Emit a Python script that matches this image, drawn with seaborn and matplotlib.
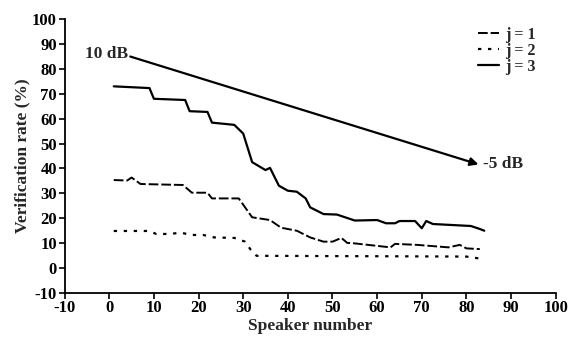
import pandas as pd
import seaborn as sns
import matplotlib
matplotlib.use('Agg')
import matplotlib.pyplot as plt

# Breakpoints (speaker number, verification rate %)
j1_x = [1, 4, 5, 7, 16.5, 18.5, 22, 23, 29, 32, 36, 38.5, 42, 45, 48, 50, 52, 53.3, 55, 63, 64, 69, 76, 78.5, 80, 83]
j1_y = [35.3, 35.1, 36.3, 33.7, 33.3, 30.2, 30.2, 27.9, 27.9, 20.3, 19.2, 16.1, 14.9, 12.2, 10.5, 10.5, 12, 10, 9.8, 8.2, 9.6, 9.2, 8.2, 9.2, 7.8, 7.5]

j2_x = [1, 9, 10.5, 13.5, 16, 18.5, 21, 23.5, 28, 30.4, 31.7, 33, 80, 83]
j2_y = [14.8, 14.8, 13.6, 13.6, 14.1, 13.2, 13.2, 12.2, 12, 10.5, 7.2, 4.8, 4.5, 3.7]

j3_x = [1, 9, 10, 17, 18, 22, 23, 28, 30, 32, 35, 36, 38, 40, 42, 44, 45, 48, 51, 55, 60, 62, 64, 65, 68.5, 70, 71, 72.5, 81, 83, 84]
j3_y = [73, 72.3, 68, 67.5, 63, 62.7, 58.4, 57.5, 54, 42.5, 39.3, 40.2, 33, 31, 30.6, 27.9, 24.3, 21.6, 21.4, 19, 19.2, 17.9, 17.9, 18.8, 18.8, 15.9, 18.8, 17.6, 16.8, 15.6, 14.9]

series_labels = ['j = 1', 'j = 2', 'j = 3']
arrow_start = (4.7, 85)
arrow_end = (82.7, 41.6)

sns.set_theme(style='ticks')
plt.rcParams['font.family'] = ['Liberation Serif', 'DejaVu Serif']
plt.rcParams['font.weight'] = 'bold'
plt.rcParams['axes.labelweight'] = 'bold'
plt.rcParams['axes.unicode_minus'] = False

fig = plt.figure(figsize=(5.72, 3.5), dpi=100)
ax = fig.add_axes([0.113, 0.164, 0.8585, 0.781])

df1 = pd.DataFrame({'x': j1_x, 'y': j1_y})
df2 = pd.DataFrame({'x': j2_x, 'y': j2_y})
df3 = pd.DataFrame({'x': j3_x, 'y': j3_y})

sns.lineplot(data=df1, x='x', y='y', ax=ax, color='black', lw=1.4,
             linestyle=(0, (5, 1.5)), label=series_labels[0], sort=False)
sns.lineplot(data=df2, x='x', y='y', ax=ax, color='black', lw=1.6,
             linestyle=(0, (1.5, 3)), label=series_labels[1], sort=False)
sns.lineplot(data=df3, x='x', y='y', ax=ax, color='black', lw=1.6,
             label=series_labels[2], sort=False)

# SNR arrow
ax.annotate('', xy=arrow_end, xytext=arrow_start,
            arrowprops=dict(arrowstyle='-|>', color='black', lw=1.6, mutation_scale=12,
                            shrinkA=0, shrinkB=0))
ax.text(-5.5, 86, '10 dB', fontsize=12.5, fontweight='bold', va='center')
ax.text(83.8, 41.7, '-5 dB', fontsize=12.5, fontweight='bold', va='center')

ax.set_xlim(-10, 100)
ax.set_ylim(-10, 100)
ax.set_xticks(range(-10, 101, 10))
ax.set_yticks(range(-10, 101, 10))
ax.set_xlabel('Speaker number', fontsize=12.5, labelpad=1)
ax.set_ylabel('Verification rate (%)', fontsize=12.5, labelpad=1)
ax.tick_params(labelsize=12, length=4, width=1.2, direction='out', pad=1.5, colors='black')
for s in ['left', 'bottom']:
    ax.spines[s].set_linewidth(1.3)
    ax.spines[s].set_color('black')
sns.despine(ax=ax)

leg = ax.legend(loc='upper right', bbox_to_anchor=(0.972, 0.995), frameon=False,
                handlelength=1.3, handletextpad=0.4, labelspacing=0.0, fontsize=11.5,
                borderaxespad=0)

fig.savefig('out.png', dpi=100)
